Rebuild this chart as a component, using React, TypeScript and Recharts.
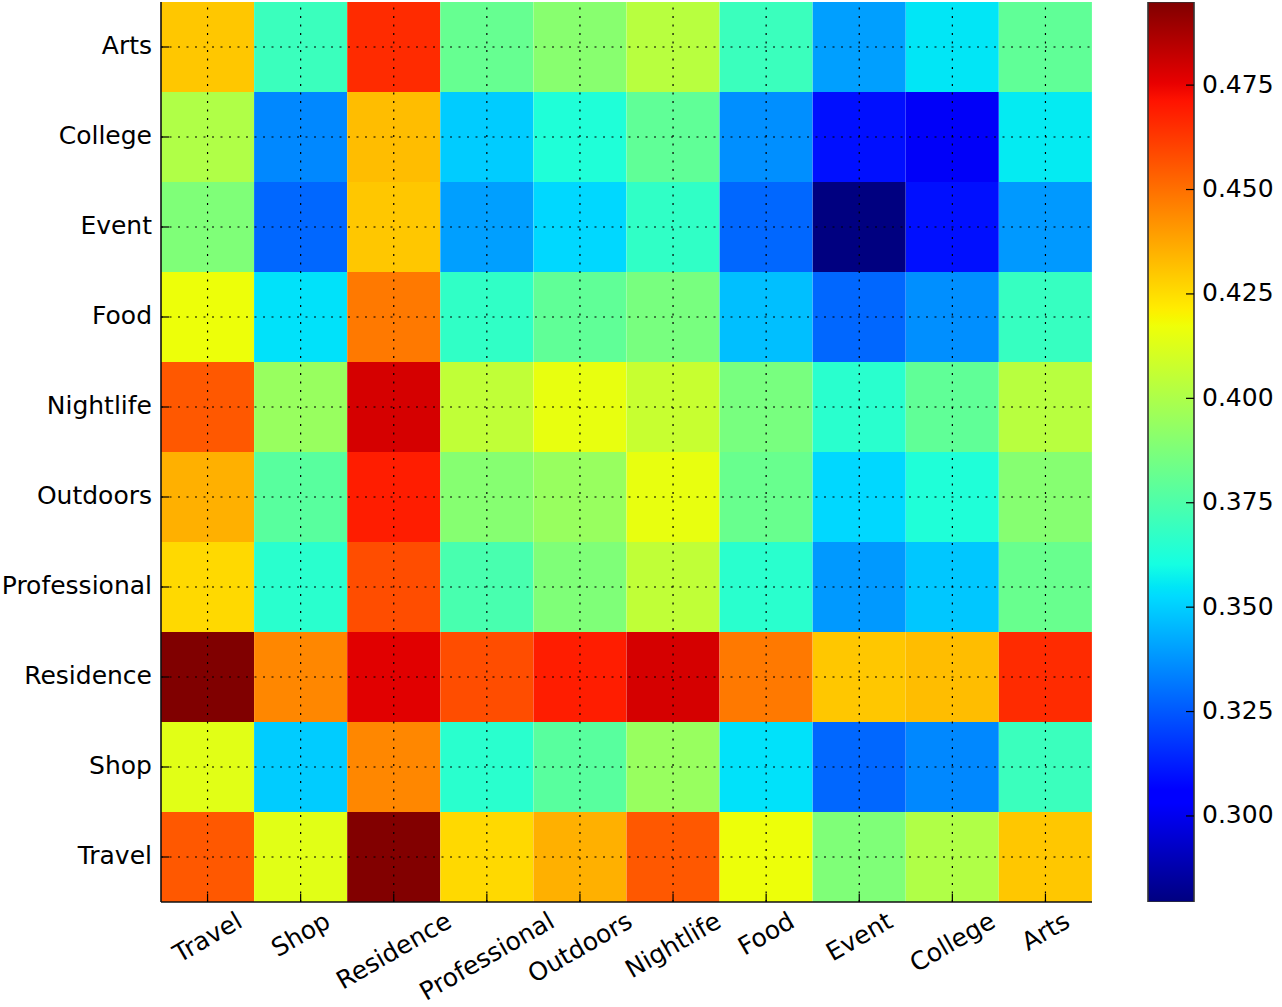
import React from 'react';
import { BarChart, Bar, XAxis, YAxis, Cell, ReferenceLine } from 'recharts';

// Columns (x axis, left to right)
const COLS = ['Travel', 'Shop', 'Residence', 'Professional', 'Outdoors', 'Nightlife', 'Food', 'Event', 'College', 'Arts'];
// Rows (y axis, top to bottom)
const ROWS = ['Arts', 'College', 'Event', 'Food', 'Nightlife', 'Outdoors', 'Professional', 'Residence', 'Shop', 'Travel'];

// Values per row, in COLS order
const rowArts = [0.430, 0.370, 0.4656, 0.3815, 0.3904, 0.403, 0.370, 0.340, 0.355, 0.380];
const rowCollege = [0.401, 0.335, 0.4324, 0.3494, 0.363, 0.380, 0.3365, 0.3096, 0.302, 0.356];
const rowEvent = [0.388, 0.328, 0.430, 0.340, 0.352, 0.3675, 0.328, 0.2794, 0.3096, 0.3387];
const rowFood = [0.417, 0.354, 0.448, 0.3675, 0.380, 0.3863, 0.3467, 0.328, 0.3365, 0.369];
const rowNightlife = [0.4555, 0.3947, 0.479, 0.405, 0.4156, 0.407, 0.3863, 0.3656, 0.380, 0.403];
const rowOutdoors = [0.4354, 0.378, 0.469, 0.390, 0.3947, 0.4156, 0.3822, 0.352, 0.363, 0.390];
const rowProfessional = [0.426, 0.3656, 0.458, 0.3736, 0.388, 0.405, 0.3656, 0.3387, 0.3484, 0.3822];
const rowResidence = [0.4949, 0.4447, 0.4768, 0.458, 0.469, 0.479, 0.448, 0.430, 0.4324, 0.4656];
const rowShop = [0.4137, 0.3494, 0.4447, 0.3656, 0.378, 0.3947, 0.354, 0.328, 0.335, 0.370];
const rowTravel = [0.4555, 0.4137, 0.4945, 0.426, 0.4354, 0.4555, 0.417, 0.388, 0.401, 0.430];

const MATRIX = [rowArts, rowCollege, rowEvent, rowFood, rowNightlife, rowOutdoors, rowProfessional, rowResidence, rowShop, rowTravel];

const CB_TICKS = [0.300, 0.325, 0.350, 0.375, 0.400, 0.425, 0.450, 0.475];

const ALL = MATRIX.flat();
const VMIN = Math.min(...ALL);
const VMAX = Math.max(...ALL);

// matplotlib "jet" colormap
function interp(pts: number[][], t: number) {
  if (t <= pts[0][0]) return pts[0][1];
  for (let i = 1; i < pts.length; i++) {
    if (t <= pts[i][0]) {
      const [x0, y0] = pts[i - 1];
      const [x1, y1] = pts[i];
      return y0 + ((t - x0) / (x1 - x0)) * (y1 - y0);
    }
  }
  return pts[pts.length - 1][1];
}
const JR = [[0, 0], [0.35, 0], [0.66, 1], [0.89, 1], [1, 0.5]];
const JG = [[0, 0], [0.125, 0], [0.375, 1], [0.64, 1], [0.91, 0], [1, 0]];
const JB = [[0, 0.5], [0.11, 1], [0.34, 1], [0.65, 0], [1, 0]];
function jetT(t: number) {
  const c = (v: number) => Math.round(Math.max(0, Math.min(1, v)) * 255);
  return `rgb(${c(interp(JR, t))},${c(interp(JG, t))},${c(interp(JB, t))})`;
}
function jetV(v: number) {
  return jetT((v - VMIN) / (VMAX - VMIN));
}
const JET_STOPS = [0, 0.11, 0.125, 0.34, 0.35, 0.375, 0.64, 0.65, 0.66, 0.89, 0.91, 1];

// Stacked data: one entry per column; segment i (from the bottom) = ROWS[9 - i]
const NR = ROWS.length;
const data = COLS.map((c) => {
  const o: any = { name: c };
  for (let i = 0; i < NR; i++) o['r' + i] = 1;
  return o;
});
const Y_TICKS = ROWS.map((_, i) => i + 0.5);

const FONT = '"DejaVu Sans", sans-serif';
const FS = 25;
const TL = 8;

let ctx: CanvasRenderingContext2D | null = null;
function measure(s: string) {
  if (!ctx) ctx = document.createElement('canvas').getContext('2d');
  if (!ctx) return s.length * FS * 0.6;
  ctx.font = `${FS}px "DejaVu Sans"`;
  return ctx.measureText(s).width;
}

const BottomTick = (props: any) => {
  const { x, y, payload } = props;
  const label = String(payload.value);
  const w = measure(label);
  const H = w * 0.5 + FS * 1.17 * 0.866;
  const cy = y + 4 + H / 2;
  return (
    <g>
      <line x1={x} x2={x} y1={y} y2={y - TL} stroke="#000" strokeWidth={1.2} />
      <text x={x} y={cy} textAnchor="middle" dominantBaseline="central" transform={`rotate(-30 ${x} ${cy})`} fontSize={FS} fontFamily={FONT} fill="#000">
        {label}
      </text>
    </g>
  );
};
const TopTick = (props: any) => {
  const { x, y } = props;
  return <line x1={x} x2={x} y1={y} y2={y + TL} stroke="#000" strokeWidth={1.2} />;
};
const LeftTick = (props: any) => {
  const { x, y, payload } = props;
  const idx = Math.round(payload.value - 0.5);
  const label = ROWS[NR - 1 - idx];
  return (
    <g>
      <line x1={x} x2={x + TL} y1={y} y2={y} stroke="#000" strokeWidth={1.2} />
      <text x={x - 9} y={y - 1.5} textAnchor="end" dominantBaseline="central" fontSize={FS} fontFamily={FONT} fill="#000">
        {label}
      </text>
    </g>
  );
};
const RightTick = (props: any) => {
  const { x, y } = props;
  return <line x1={x} x2={x - TL} y1={y} y2={y} stroke="#000" strokeWidth={1.2} />;
};
const CbTick = (props: any) => {
  const { x, y, payload } = props;
  return (
    <g>
      <line x1={x} x2={x - TL} y1={y} y2={y} stroke="#000" strokeWidth={1.2} />
      <text x={x + 8} y={y - 1} textAnchor="start" dominantBaseline="central" fontSize={FS} fontFamily={FONT} fill="#000">
        {Number(payload.value).toFixed(3)}
      </text>
    </g>
  );
};

const AX = { stroke: '#111', strokeWidth: 1.6 };
const GRID = { stroke: '#000', strokeWidth: 1.2, strokeDasharray: '2 6.5' };

export default function App() {
  return (
    <div style={{ position: 'absolute', left: 0, top: 0, width: 1282, height: 1007, background: '#fff' }}>
      <div style={{ position: 'absolute', left: 0, top: 0 }}>
        <BarChart width={1100} height={1007} data={data} margin={{ top: 2, right: 8, left: 0, bottom: 0 }} barCategoryGap={0} barGap={0}>
          <XAxis dataKey="name" type="category" height={105} interval={0} tickSize={0} tickMargin={0} tickLine={false} axisLine={AX} tick={<BottomTick />} />
          <XAxis xAxisId="top" orientation="top" dataKey="name" type="category" height={0} interval={0} tickSize={0} tickMargin={0} tickLine={false} axisLine={AX} tick={<TopTick />} />
          <YAxis type="number" domain={[0, NR]} ticks={Y_TICKS} width={161} interval={0} tickSize={0} tickMargin={0} tickLine={false} axisLine={AX} tick={<LeftTick />} allowDataOverflow />
          <YAxis yAxisId="right" orientation="right" type="number" domain={[0, NR]} ticks={Y_TICKS} width={0} interval={0} tickSize={0} tickMargin={0} tickLine={false} axisLine={AX} tick={<RightTick />} allowDataOverflow />
          {ROWS.map((_, i) => (
            <Bar key={'r' + i} dataKey={'r' + i} stackId="s" isAnimationActive={false}>
              {COLS.map((c, j) => (
                <Cell key={c} fill={jetV(MATRIX[NR - 1 - i][j])} />
              ))}
            </Bar>
          ))}
          {COLS.map((c) => (
            <ReferenceLine key={'gx' + c} x={c} {...GRID} />
          ))}
          {Y_TICKS.map((t) => (
            <ReferenceLine key={'gy' + t} y={t} {...GRID} />
          ))}
        </BarChart>
      </div>
      <div style={{ position: 'absolute', left: 1140, top: 0 }}>
        <BarChart width={140} height={1007} data={[{ name: 'cb', range: [VMIN, VMAX] }]} margin={{ top: 2, right: 0, left: 8, bottom: 105 }} barCategoryGap={0}>
          <defs>
            <linearGradient id="jetGrad" x1="0" y1="1" x2="0" y2="0">
              {JET_STOPS.map((s) => (
                <stop key={s} offset={s} stopColor={jetT(s)} />
              ))}
            </linearGradient>
          </defs>
          <XAxis dataKey="name" hide />
          <YAxis orientation="right" type="number" domain={[VMIN, VMAX]} ticks={CB_TICKS} width={86} interval={0} tickSize={0} tickMargin={0} tickLine={false} axisLine={false} tick={<CbTick />} allowDataOverflow />
          <Bar dataKey="range" fill="url(#jetGrad)" stroke="#333" strokeWidth={1.6} isAnimationActive={false} />
        </BarChart>
      </div>
    </div>
  );
}
